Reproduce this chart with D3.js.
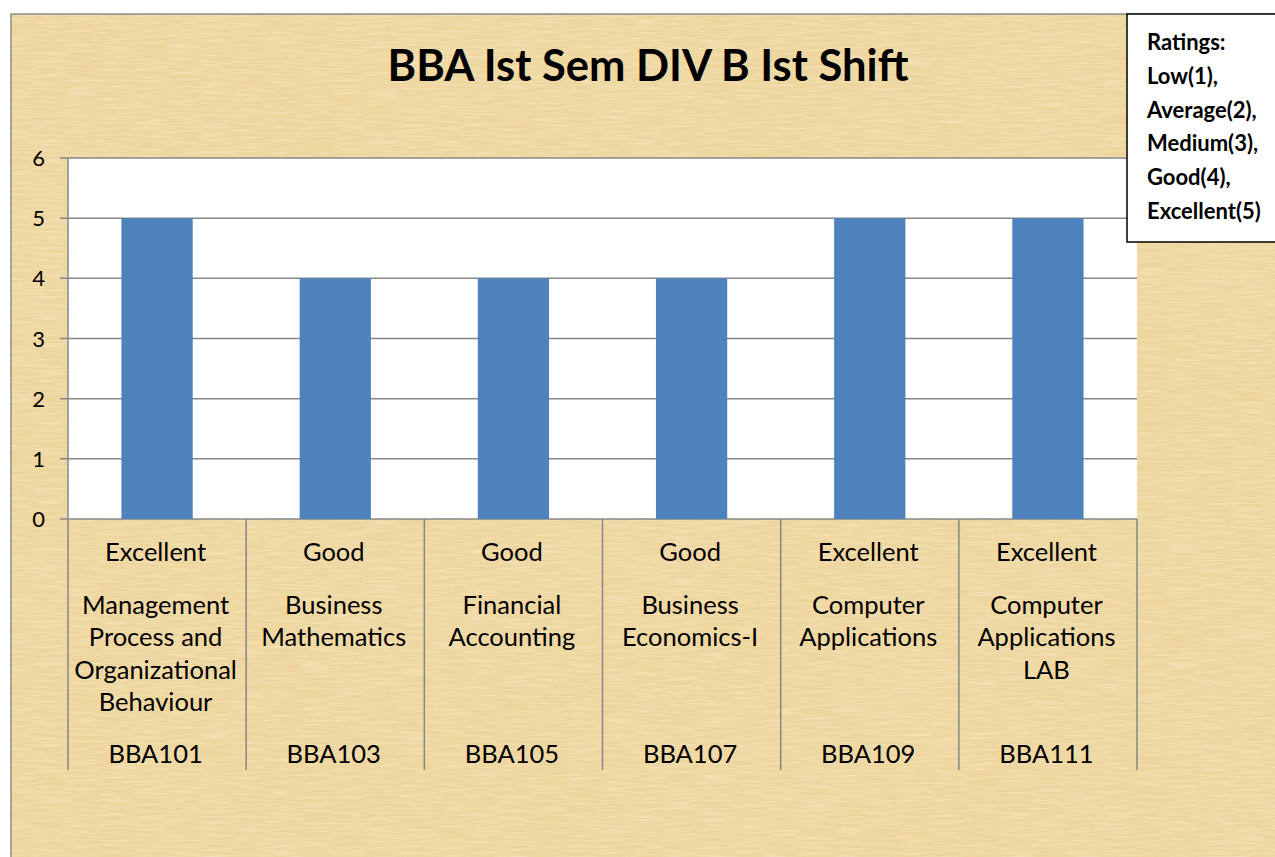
<!DOCTYPE html>
<html>
<head>
<meta charset="utf-8">
<script src="https://cdn.jsdelivr.net/npm/d3@7"></script>
<style>
  body { margin: 0; background: #fff; }
  svg { display: block; font-family: Lato, "Open Sans", sans-serif; }
</style>
</head>
<body>
<div id="chart"></div>
<script>
const codes = ["BBA101", "BBA103", "BBA105", "BBA107", "BBA109", "BBA111"];
const subjects = [
  ["Management", "Process and", "Organizational", "Behaviour"],
  ["Business", "Mathematics"],
  ["Financial", "Accounting"],
  ["Business", "Economics-I"],
  ["Computer", "Applications"],
  ["Computer", "Applications", "LAB"]
];
const ratings = ["Excellent", "Good", "Good", "Good", "Excellent", "Excellent"];
const values = [5, 4, 4, 4, 5, 5];
const yTicks = [0, 1, 2, 3, 4, 5, 6];
const legendLines = ["Ratings:", "Low(1),", "Average(2),", "Medium(3),", "Good(4),", "Excellent(5)"];
const title = "BBA Ist Sem DIV B Ist Shift";

const W = 1275, H = 857;
const svg = d3.select("#chart").append("svg").attr("width", W).attr("height", H);

// parchment texture
const defs = svg.append("defs");
const f1 = defs.append("filter").attr("id", "fib").attr("x", 0).attr("y", 0).attr("width", "100%").attr("height", "100%");
f1.append("feTurbulence").attr("type", "fractalNoise").attr("baseFrequency", "0.6 0.03").attr("numOctaves", 3).attr("seed", 4).attr("result", "n1");
f1.append("feColorMatrix").attr("in", "n1").attr("type", "matrix")
  .attr("values", "0 0 0 0 0.8  0 0 0 0 0.66  0 0 0 0 0.38  1.5 0 0 0 -0.6").attr("result", "c1");
f1.append("feTurbulence").attr("type", "fractalNoise").attr("baseFrequency", "0.03 0.6").attr("numOctaves", 3).attr("seed", 9).attr("result", "n2");
f1.append("feColorMatrix").attr("in", "n2").attr("type", "matrix")
  .attr("values", "0 0 0 0 0.98  0 0 0 0 0.9  0 0 0 0 0.72  1.5 0 0 0 -0.62").attr("result", "c2");
f1.append("feTurbulence").attr("type", "fractalNoise").attr("baseFrequency", "0.006 0.006").attr("numOctaves", 2).attr("seed", 2).attr("result", "n3");
f1.append("feColorMatrix").attr("in", "n3").attr("type", "matrix")
  .attr("values", "0 0 0 0 0.85  0 0 0 0 0.72  0 0 0 0 0.4  1.2 0 0 0 -0.45").attr("result", "c3");
f1.append("feMerge").selectAll("feMergeNode").data(["c3", "c1", "c2"]).enter().append("feMergeNode").attr("in", d => d);

const bg = svg.append("g");
bg.append("rect").attr("x", 11).attr("y", 14).attr("width", W).attr("height", H)
  .attr("fill", "#eed59c");
bg.append("rect").attr("x", 11).attr("y", 14).attr("width", W).attr("height", H)
  .attr("filter", "url(#fib)").attr("opacity", 0.6);
bg.append("rect").attr("x", 11).attr("y", 14).attr("width", W).attr("height", H)
  .attr("fill", "none").attr("stroke", "#8c8c8c").attr("stroke-width", 1.5);

const plot = { left: 68, right: 1137, top: 158, bottom: 519 };

const x = d3.scaleBand().domain(codes).range([plot.left, plot.right]).paddingInner(0).paddingOuter(0);
const y = d3.scaleLinear().domain([0, 6]).range([plot.bottom, plot.top]);
const barW = x.bandwidth() / 2.5;

svg.append("rect").attr("x", plot.left).attr("y", plot.top)
  .attr("width", plot.right - plot.left).attr("height", plot.bottom - plot.top).attr("fill", "#fff");

// gridlines + ticks
svg.append("g").selectAll("line").data(yTicks).enter().append("line")
  .attr("x1", plot.left - 8).attr("x2", plot.right)
  .attr("y1", d => y(d)).attr("y2", d => y(d))
  .attr("stroke", "#878787").attr("stroke-width", 1.5);

svg.append("g").selectAll("text").data(yTicks).enter().append("text")
  .attr("x", 45).attr("y", d => y(d) + 8)
  .attr("text-anchor", "end").attr("font-size", 22).attr("fill", "#000")
  .text(d => d);

// bars
svg.append("g").selectAll("rect").data(values).enter().append("rect")
  .attr("x", (d, i) => x(codes[i]) + (x.bandwidth() - barW) / 2)
  .attr("y", d => y(d))
  .attr("width", barW)
  .attr("height", d => y(0) - y(d))
  .attr("fill", "#4f81bd");

// axis lines
svg.append("line").attr("x1", plot.left).attr("x2", plot.left)
  .attr("y1", plot.top).attr("y2", plot.bottom)
  .attr("stroke", "#878787").attr("stroke-width", 1.5);

const divBottom = 770;
const bounds = codes.map(c => x(c)).concat([plot.right]);
svg.append("g").selectAll("line").data(bounds).enter().append("line")
  .attr("x1", d => d).attr("x2", d => d)
  .attr("y1", plot.bottom).attr("y2", divBottom)
  .attr("stroke", "#878787").attr("stroke-width", 1.5);

// category labels
const cat = svg.append("g").attr("font-size", 25.5).attr("fill", "#000").attr("text-anchor", "middle");
cat.selectAll("text.rating").data(ratings).enter().append("text")
  .attr("class", "rating")
  .attr("x", (d, i) => x(codes[i]) + x.bandwidth() / 2 - 1.5)
  .attr("y", 561).text(d => d);

subjects.forEach((lines, i) => {
  cat.append("g").selectAll("text").data(lines).enter().append("text")
    .attr("x", x(codes[i]) + x.bandwidth() / 2 - 1.5)
    .attr("y", (d, j) => 614 + j * 32.4)
    .text(d => d);
});

cat.selectAll("text.code").data(codes).enter().append("text")
  .attr("class", "code")
  .attr("x", d => x(d) + x.bandwidth() / 2 - 1.5)
  .attr("y", 763).text(d => d);

// title
svg.append("text").attr("x", 648).attr("y", 81)
  .attr("text-anchor", "middle").attr("font-size", 43.5).attr("font-weight", "bold")
  .text(title);

// legend box
svg.append("rect").attr("x", 1127).attr("y", 14).attr("width", 160).attr("height", 228)
  .attr("fill", "#fff").attr("stroke", "#000").attr("stroke-width", 1.5);
svg.append("g").selectAll("text").data(legendLines).enter().append("text")
  .attr("x", 1147).attr("y", (d, i) => 50 + i * 33.8)
  .attr("font-size", 22).attr("font-weight", "bold")
  .text(d => d);
</script>
</body>
</html>
